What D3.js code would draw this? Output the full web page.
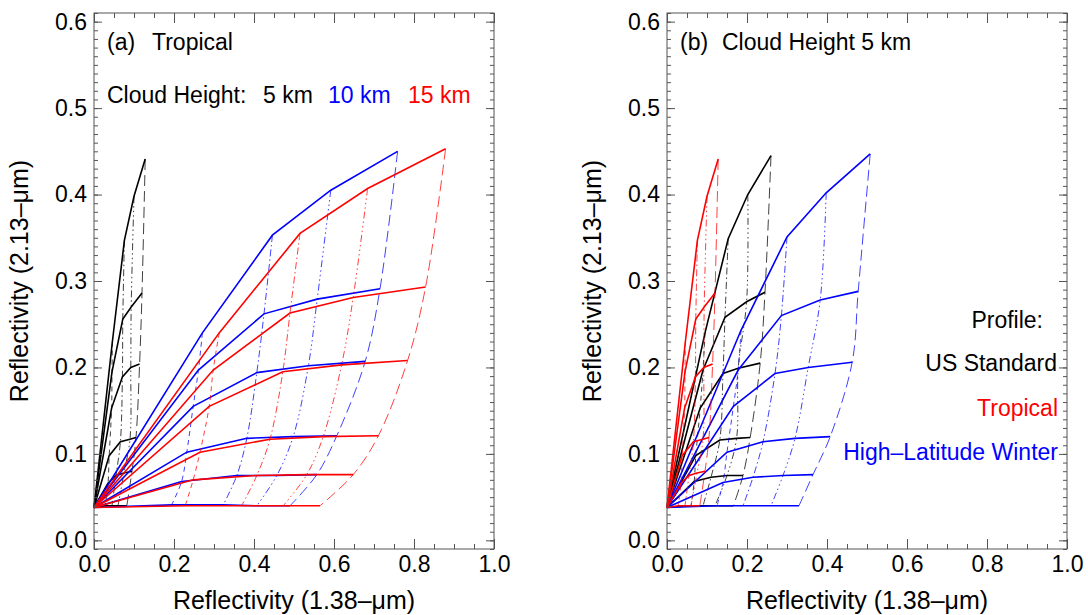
<!DOCTYPE html>
<html>
<head>
<meta charset="utf-8">
<script src="https://cdn.jsdelivr.net/npm/d3@7"></script>
<style>
body { margin: 0; background: #fff; }
svg { display: block; font-family: "Liberation Sans", Arial, Helvetica, sans-serif; }
</style>
</head>
<body>
<svg id="chart" width="1088" height="615"></svg>
<script>
// every grid: one row per particle size (solid line), four optical depths per row
const origin = [0, 0.038]

const tropical5km = [
    [[0.046, 0.230], [0.076, 0.347], [0.100, 0.398], [0.128, 0.441]],
    [[0.045, 0.195], [0.072, 0.256], [0.093, 0.270], [0.120, 0.286]],
    [[0.044, 0.153], [0.071, 0.189], [0.092, 0.200], [0.114, 0.204]],
    [[0.038, 0.098], [0.066, 0.114], [0.090, 0.117], [0.105, 0.119]],
    [[0.035, 0.066], [0.055, 0.075], [0.075, 0.078], [0.095, 0.080]],
    [[0.028, 0.040], [0.045, 0.040], [0.060, 0.040], [0.082, 0.040]]
]
const tropical10km = [
    [[0.271, 0.240], [0.446, 0.353], [0.592, 0.405], [0.759, 0.450]],
    [[0.261, 0.197], [0.425, 0.262], [0.558, 0.279], [0.715, 0.291]],
    [[0.248, 0.155], [0.407, 0.194], [0.536, 0.202], [0.678, 0.207]],
    [[0.232, 0.102], [0.382, 0.118], [0.498, 0.120], [0.607, 0.121]],
    [[0.219, 0.068], [0.357, 0.075], [0.457, 0.075], [0.557, 0.076]],
    [[0.194, 0.041], [0.323, 0.041], [0.407, 0.040], [0.490, 0.040]]
]
const tropical15km = [
    [[0.313, 0.240], [0.515, 0.355], [0.684, 0.407], [0.879, 0.453]],
    [[0.298, 0.197], [0.490, 0.263], [0.648, 0.281], [0.829, 0.293]],
    [[0.288, 0.155], [0.472, 0.195], [0.619, 0.203], [0.784, 0.208]],
    [[0.265, 0.102], [0.440, 0.117], [0.573, 0.120], [0.711, 0.121]],
    [[0.248, 0.070], [0.407, 0.075], [0.532, 0.076], [0.648, 0.076]],
    [[0.228, 0.040], [0.369, 0.040], [0.473, 0.040], [0.565, 0.040]]
]
const usStandard5km = [
    [[0.095, 0.240], [0.153, 0.349], [0.202, 0.400], [0.260, 0.445]],
    [[0.090, 0.197], [0.145, 0.258], [0.199, 0.276], [0.245, 0.287]],
    [[0.083, 0.153], [0.140, 0.193], [0.178, 0.199], [0.233, 0.205]],
    [[0.072, 0.098], [0.132, 0.116], [0.174, 0.118], [0.208, 0.119]],
    [[0.068, 0.068], [0.110, 0.073], [0.150, 0.075], [0.190, 0.075]],
    [[0.060, 0.040], [0.090, 0.040], [0.120, 0.040], [0.166, 0.040]]
]
const highLatWinter5km = [
    [[0.185, 0.243], [0.300, 0.351], [0.398, 0.402], [0.508, 0.447]],
    [[0.178, 0.197], [0.286, 0.260], [0.383, 0.278], [0.478, 0.288]],
    [[0.166, 0.155], [0.270, 0.193], [0.353, 0.200], [0.463, 0.206]],
    [[0.150, 0.102], [0.240, 0.114], [0.320, 0.118], [0.408, 0.120]],
    [[0.140, 0.067], [0.215, 0.073], [0.290, 0.075], [0.365, 0.076]],
    [[0.125, 0.040], [0.190, 0.040], [0.260, 0.040], [0.330, 0.040]]
]

const xTicks = [0, 0.2, 0.4, 0.6, 0.8, 1.0]
const yTicks = [0, 0.1, 0.2, 0.3, 0.4, 0.5, 0.6]
const xMinor = d3.range(0, 1.0001, 0.05)
const yMinor = d3.range(-0.01, 0.6101, 0.01)

// dash pattern per optical depth column (small -> large)
const tauDash = ['5,4', '7,3,1.5,3', '7,3,1.5,3,1.5,3,1.5,3', '11,5']

const svg = d3.select('#chart')
const plotTop = 13, plotBottom = 549
const y = d3.scaleLinear().domain([-0.01, 0.61]).range([plotBottom, plotTop])

const panels = [
    {
        left: 94,
        grids: [
            { data: tropical5km, color: '#000000' },
            { data: tropical10km, color: '#0000ff' },
            { data: tropical15km, color: '#ff0000' }
        ]
    },
    {
        left: 667,
        grids: [
            { data: usStandard5km, color: '#000000' },
            { data: highLatWinter5km, color: '#0000ff' },
            { data: tropical5km, color: '#ff0000' }
        ]
    }
]

panels.forEach(p => drawPanel(p))

function drawPanel(p) {
    const x = d3.scaleLinear().domain([0, 1]).range([p.left, p.left + 400])
    const g = svg.append('g')
    const line = d3.line().x(d => x(d[0])).y(d => y(d[1]))
    const curve = d3.line().x(d => x(d[0])).y(d => y(d[1])).curve(d3.curveCatmullRom)

    p.grids.forEach(grid => {
        // constant optical depth lines
        for (let k = 0; k < 4; k++) {
            g.append('path')
                .datum(grid.data.map(row => row[k]))
                .attr('d', curve)
                .attr('fill', 'none')
                .attr('stroke', grid.color)
                .attr('stroke-width', 1)
                .attr('stroke-opacity', 0.75)
                .attr('stroke-dasharray', tauDash[k])
        }
        // constant size lines
        g.selectAll(null)
            .data(grid.data)
            .enter().append('path')
            .attr('d', row => line([origin, ...row]))
            .attr('fill', 'none')
            .attr('stroke', grid.color)
            .attr('stroke-width', 1.6)
    })

    // frame and ticks
    const frameColor = '#555'
    const axes = [
        { ax: d3.axisBottom(x), tr: `translate(0,${plotBottom})`, maj: xTicks, min: xMinor, size: 10, label: true },
        { ax: d3.axisTop(x), tr: `translate(0,${plotTop})`, maj: xTicks, min: xMinor, size: 10, label: false },
        { ax: d3.axisLeft(y), tr: `translate(${p.left},0)`, maj: yTicks, min: yMinor, size: 8, label: true },
        { ax: d3.axisRight(y), tr: `translate(${p.left + 400},0)`, maj: yTicks, min: yMinor, size: 8, label: false }
    ]
    axes.forEach(a => {
        const minor = g.append('g').attr('transform', a.tr)
            .call(a.ax.tickValues(a.min).tickSize(-a.size / 2).tickFormat(''))
        minor.select('.domain').remove()
        const major = g.append('g').attr('transform', a.tr)
            .call(a.ax.tickValues(a.maj).tickSize(-a.size).tickPadding(7)
                .tickFormat(a.label ? d3.format('.1f') : ''))
        major.select('.domain').remove()
        major.selectAll('text').attr('font-size', 23).attr('fill', '#000')
            .attr('font-family', '"Liberation Sans", Arial, sans-serif')
    })
    g.selectAll('.tick line').attr('stroke', frameColor)

    g.append('rect')
        .attr('x', p.left).attr('y', plotTop)
        .attr('width', 400).attr('height', plotBottom - plotTop)
        .attr('fill', 'none').attr('stroke', frameColor).attr('stroke-width', 1)

    g.append('text')
        .attr('x', p.left + 200).attr('y', 609)
        .attr('text-anchor', 'middle').attr('font-size', 25)
        .text('Reflectivity (1.38\u2013\u03bcm)')
    g.append('text')
        .attr('transform', `translate(${p.left - 66},${(plotTop + plotBottom) / 2}) rotate(-90)`)
        .attr('text-anchor', 'middle').attr('font-size', 25)
        .text('Reflectivity (2.13\u2013\u03bcm)')
}

// panel annotations
const a = svg.append('g').attr('font-size', 23)
a.append('text').attr('x', 107).attr('y', 50).text('(a)')
a.append('text').attr('x', 152).attr('y', 50).text('Tropical')
a.append('text').attr('x', 107).attr('y', 103).text('Cloud Height:')
a.append('text').attr('x', 263).attr('y', 103).text('5 km')
a.append('text').attr('x', 328).attr('y', 103).attr('fill', '#0000ff').text('10 km')
a.append('text').attr('x', 408).attr('y', 103).attr('fill', '#ff0000').text('15 km')

const b = svg.append('g').attr('font-size', 23)
b.append('text').attr('x', 680).attr('y', 50).text('(b)')
b.append('text').attr('x', 722).attr('y', 50).text('Cloud Height 5 km')

const legend = [
    { text: 'Profile:', color: '#000000', x: 1043, y: 328 },
    { text: 'US Standard', color: '#000000', x: 1057, y: 371 },
    { text: 'Tropical', color: '#ff0000', x: 1058, y: 416 },
    { text: 'High\u2013Latitude Winter', color: '#0000ff', x: 1058, y: 460 }
]
b.selectAll('.leg')
    .data(legend)
    .enter().append('text')
    .attr('x', d => d.x).attr('y', d => d.y)
    .attr('text-anchor', 'end')
    .attr('fill', d => d.color)
    .text(d => d.text)
</script>
</body>
</html>
